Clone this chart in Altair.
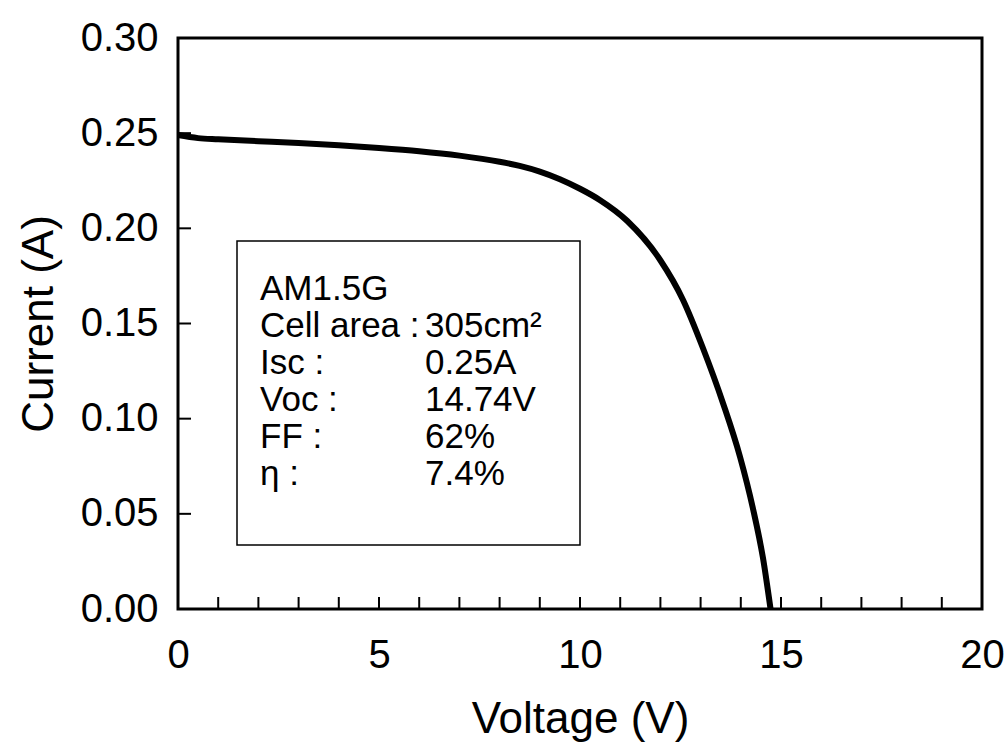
import altair as alt
import pandas as pd

# I-V curve
voltage = [0, 0.5, 1, 2, 3, 4, 5, 6, 7, 8, 8.5, 9, 9.5, 10, 10.5, 11.17,
           11.99, 12.56, 13.06, 13.56, 13.98, 14.30, 14.55, 14.74]
current = [0.249, 0.2474, 0.2468, 0.2458, 0.2448, 0.2436, 0.2422, 0.2405,
           0.2382, 0.2350, 0.2328, 0.2298, 0.2258, 0.2208, 0.2148, 0.2040,
           0.1835, 0.1625, 0.1370, 0.1080, 0.0800, 0.0530, 0.0270, 0.0]

x_tick_labels = [0, 5, 10, 15, 20]
y_tick_labels = [0.0, 0.05, 0.10, 0.15, 0.20, 0.25, 0.30]
x_minor_ticks = list(range(1, 20))
y_minor_ticks = [0.05, 0.10, 0.15, 0.20, 0.25]

box_labels = ["AM1.5G", "Cell area :", "Isc :", "Voc :", "FF :", "η :"]
box_values = ["", "305cm²", "0.25A", "14.74V", "62%", "7.4%"]

W, H = 804, 571
FONT = "Liberation Sans"

curve_df = pd.DataFrame({"V": voltage, "I": current})
xt_df = pd.DataFrame({"V": x_minor_ticks})
yt_df = pd.DataFrame({"I": y_minor_ticks})

x_scale = alt.Scale(domain=[0, 20], nice=False, zero=False)
y_scale = alt.Scale(domain=[0, 0.30], nice=False, zero=False)

x_axis = alt.Axis(
    values=x_tick_labels, title="Voltage (V)", domain=False, ticks=False,
    tickSize=0, grid=False, labelFont=FONT, labelFontSize=40,
    labelColor="black", labelPadding=26, labelFlush=False,
    titleFont=FONT, titleFontSize=44, titleFontWeight="normal",
    titleColor="black", titleY=123, titleBaseline="alphabetic",
)
y_axis = alt.Axis(
    values=y_tick_labels, format=".2f", title="Current (A)", domain=False,
    ticks=False, tickSize=0, grid=False, labelFont=FONT, labelFontSize=40,
    labelColor="black", labelPadding=20, labelFlush=False,
    titleFont=FONT, titleFontSize=44, titleFontWeight="normal",
    titleColor="black", titleX=-126, titleY=H / 2, titleAngle=270,
    titleBaseline="alphabetic", titleAlign="center",
)

curve = alt.Chart(curve_df).mark_line(
    color="black", strokeWidth=6, interpolate="monotone"
).encode(
    x=alt.X("V:Q", scale=x_scale, axis=x_axis),
    y=alt.Y("I:Q", scale=y_scale, axis=y_axis),
)

x_ticks = alt.Chart(xt_df).mark_rule(color="black", strokeWidth=2).encode(
    x=alt.X("V:Q", scale=x_scale, axis=x_axis),
    y=alt.value(H),
    y2=alt.value(H - 12),
)

y_ticks = alt.Chart(yt_df).mark_rule(color="black", strokeWidth=2).encode(
    y=alt.Y("I:Q", scale=y_scale, axis=y_axis),
    x=alt.value(0),
    x2=alt.value(13),
)

box = alt.Chart(alt.Data(values=[{"a": 1}])).mark_rect(
    filled=False, stroke="black", strokeWidth=1.5
).encode(
    x=alt.value(59), x2=alt.value(402), y=alt.value(203), y2=alt.value(507)
)

texts = []
for i, (lab, val) in enumerate(zip(box_labels, box_values)):
    ypix = 262 + 37 * i
    texts.append(
        alt.Chart(alt.Data(values=[{"t": lab}])).mark_text(
            align="left", baseline="alphabetic", font=FONT, fontSize=35,
            color="black"
        ).encode(text="t:N", x=alt.value(82), y=alt.value(ypix))
    )
    if val:
        texts.append(
            alt.Chart(alt.Data(values=[{"t": val}])).mark_text(
                align="left", baseline="alphabetic", font=FONT, fontSize=35,
                color="black"
            ).encode(text="t:N", x=alt.value(247), y=alt.value(ypix))
        )

chart = alt.layer(box, *texts, x_ticks, y_ticks, curve).properties(
    width=W, height=H,
    autosize=alt.AutoSizeParams(type="none"),
    padding={"left": 178, "top": 38, "right": 24, "bottom": 133},
    background="white",
).configure_view(stroke="black", strokeWidth=3)

chart.save("out.html", embed_options={"renderer": "svg", "actions": False})
